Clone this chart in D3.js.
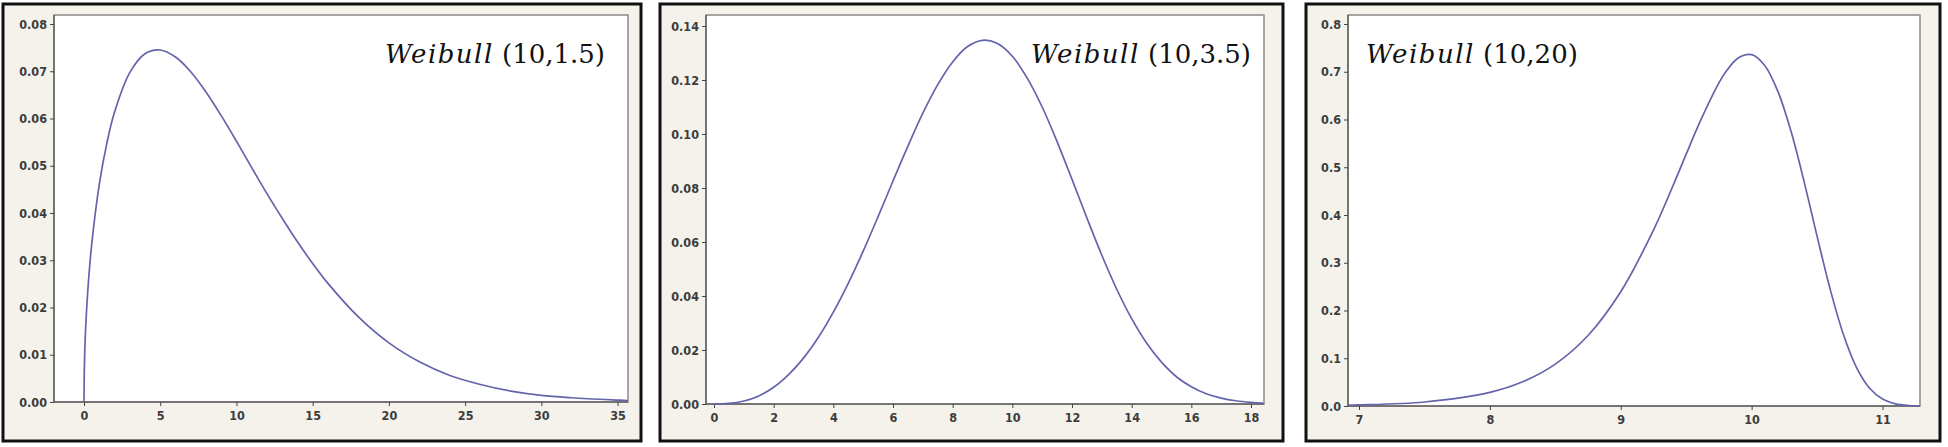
<!DOCTYPE html>
<html>
<head>
<meta charset="utf-8">
<script src="https://cdn.jsdelivr.net/npm/d3@7"></script>
<style>
  body { margin: 0; background: #fff; }
  .tick text { font-family: "DejaVu Sans Condensed", "DejaVu Sans", sans-serif; font-weight: bold; font-size: 12.5px; fill: #3c3c3c; }
  .tick line { stroke: #444; }
  .domain { stroke: #444; }
</style>
</head>
<body>
<script>
// Weibull (10,1.5)
const shape15X = [0, 0.02, 0.05, 0.1, 0.25, 0.5, 1, 1.5, 2, 3, 4, 5, 6, 7, 8, 9, 10, 11, 12, 13, 14, 15, 16, 18, 20, 22, 24, 26, 28, 30, 32, 35, 35.7];
const shape15Y = [0, 0.0067, 0.0106, 0.0150, 0.0236, 0.0332, 0.0460, 0.0548, 0.0613, 0.0697, 0.0737, 0.0745, 0.0730, 0.0699, 0.0656, 0.0606, 0.0552, 0.0496, 0.0441, 0.0389, 0.0339, 0.0293, 0.0251, 0.0180, 0.0125, 0.0085, 0.0056, 0.0037, 0.0023, 0.0014, 0.0009, 0.0004, 0.0003];

// Weibull (10,3.5)
const shape35X = [0, 0.5, 1, 1.5, 2, 2.5, 3, 3.5, 4, 4.5, 5, 5.5, 6, 6.5, 7, 7.5, 8, 8.5, 9, 9.5, 10, 10.5, 11, 11.5, 12, 12.5, 13, 13.5, 14, 14.5, 15, 15.5, 16, 16.5, 17, 17.5, 18, 18.4];
const shape35Y = [0, 0.0002, 0.0011, 0.0030, 0.0062, 0.0109, 0.0170, 0.0247, 0.0340, 0.0447, 0.0566, 0.0694, 0.0826, 0.0955, 0.1077, 0.1183, 0.1267, 0.1324, 0.1347, 0.1335, 0.1288, 0.1207, 0.1100, 0.0972, 0.0832, 0.0689, 0.0551, 0.0425, 0.0316, 0.0226, 0.0155, 0.0101, 0.0064, 0.0038, 0.0022, 0.0012, 0.0006, 0.0003];

// Weibull (10,20)
const shape20X = [6.92, 7, 7.5, 8, 8.25, 8.5, 8.75, 9, 9.25, 9.4, 9.5, 9.6, 9.75, 9.8, 9.9, 10, 10.1, 10.2, 10.3, 10.4, 10.5, 10.6, 10.7, 10.8, 10.9, 11, 11.1, 11.2, 11.3];
const shape20Y = [0.0018, 0.0023, 0.0084, 0.0285, 0.0506, 0.0877, 0.1476, 0.2392, 0.3684, 0.4618, 0.5274, 0.5919, 0.6767, 0.6989, 0.7293, 0.7358, 0.7132, 0.6594, 0.5762, 0.4710, 0.3558, 0.2449, 0.1509, 0.0816, 0.0378, 0.0146, 0.0046, 0.0011, 0.0002];

const titles = ["(10,1.5)", "(10,3.5)", "(10,20)"];
const xTicks = [[0, 5, 10, 15, 20, 25, 30, 35], d3.range(0, 19, 2), [7, 8, 9, 10, 11]];
const yTicks = [d3.range(0, 0.081, 0.01), d3.range(0, 0.141, 0.02), d3.range(0, 0.81, 0.1)];
const yFormats = [".2f", ".2f", ".1f"];

// layout of the three panels (page pixels)
const panels = [
  { box: [3, 4, 641, 441], plot: [54, 15, 628, 402], xd: [0, 35], xr: [84, 617.6], yd: [0, 0.08], yr: [402, 24],
    xs: shape15X, ys: shape15Y, titleX: 605, anchor: "end" },
  { box: [660, 4, 1283, 441], plot: [706, 15, 1264, 404], xd: [0, 18], xr: [714, 1251], yd: [0, 0.14], yr: [404, 26],
    xs: shape35X, ys: shape35Y, titleX: 1251, anchor: "end" },
  { box: [1306, 4, 1940, 441], plot: [1348, 15, 1920, 406], xd: [7, 11], xr: [1359, 1882.5], yd: [0, 0.8], yr: [406, 24],
    xs: shape20X, ys: shape20Y, titleX: 1366, anchor: "start" }
];

const svg = d3.select("body").append("svg")
  .attr("width", 1948)
  .attr("height", 447);

panels.forEach(function(p, i) {
  let g = svg.append("g");

  // outer frame with beige fill
  g.append("rect")
    .attr("x", p.box[0]).attr("y", p.box[1])
    .attr("width", p.box[2] - p.box[0]).attr("height", p.box[3] - p.box[1])
    .attr("fill", "#f4f2eb")
    .attr("stroke", "#111")
    .attr("stroke-width", 3);

  // plot area
  g.append("rect")
    .attr("x", p.plot[0]).attr("y", p.plot[1])
    .attr("width", p.plot[2] - p.plot[0]).attr("height", p.plot[3] - p.plot[1])
    .attr("fill", "#fff")
    .attr("stroke", "#8a8a8a")
    .attr("stroke-width", 1.5);

  let xScale = d3.scaleLinear().domain(p.xd).range(p.xr);
  let yScale = d3.scaleLinear().domain(p.yd).range(p.yr);

  g.append("g")
    .attr("transform", "translate(0," + p.plot[3] + ")")
    .call(d3.axisBottom(xScale).tickValues(xTicks[i]).tickSize(4).tickPadding(5).tickFormat(d3.format("d")))
    .call(a => a.select(".domain").attr("d", "M" + p.plot[0] + ",0H" + p.plot[2]));

  g.append("g")
    .attr("transform", "translate(" + p.plot[0] + ",0)")
    .call(d3.axisLeft(yScale).tickValues(yTicks[i]).tickSize(4).tickPadding(3).tickFormat(d3.format(yFormats[i])))
    .call(a => a.select(".domain").attr("d", "M0," + p.plot[1] + "V" + p.plot[3]));

  let clipId = "clip" + i;
  svg.append("clipPath").attr("id", clipId)
    .append("rect")
    .attr("x", p.plot[0]).attr("y", p.plot[1] - 2)
    .attr("width", p.plot[2] - p.plot[0]).attr("height", p.plot[3] - p.plot[1] + 3);

  let line = d3.line()
    .x(d => xScale(d[0]))
    .y(d => yScale(d[1]))
    .curve(d3.curveCatmullRom.alpha(0.5));

  g.append("path")
    .datum(d3.zip(p.xs, p.ys))
    .attr("clip-path", "url(#" + clipId + ")")
    .attr("d", line)
    .attr("fill", "none")
    .attr("stroke", "#6464ac")
    .attr("stroke-width", 1.7);

  // title
  let t = g.append("text")
    .attr("x", p.titleX)
    .attr("y", 63)
    .attr("text-anchor", p.anchor)
    .style("font-family", "'DejaVu Serif', 'Liberation Serif', serif")
    .style("font-size", "26px")
    .style("fill", "#111");
  t.append("tspan")
    .style("font-style", "italic")
    .style("letter-spacing", "1.5px")
    .text("Weibull");
  t.append("tspan")
    .text(" " + titles[i]);
});
</script>
</body>
</html>
